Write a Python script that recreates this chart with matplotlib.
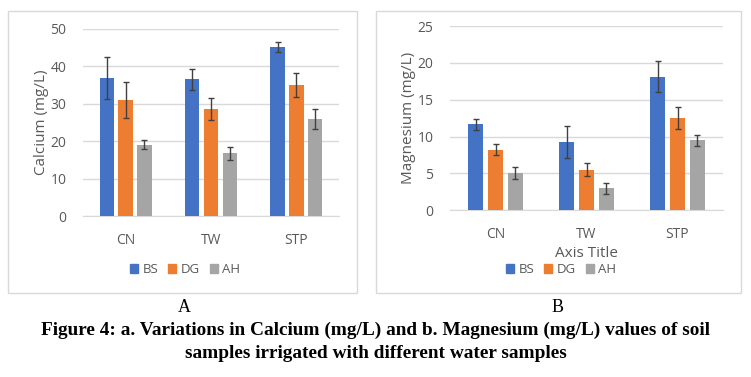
import matplotlib
matplotlib.use("Agg")
import matplotlib.pyplot as plt
import numpy as np
from matplotlib.patches import Rectangle

categories = ["CN", "TW", "STP"]
series = ["BS", "DG", "AH"]
colors = ["#4472C4", "#ED7D31", "#A5A5A5"]

calcium = {
    "BS": [36.9, 36.6, 45.2],
    "DG": [31.0, 28.6, 35.0],
    "AH": [19.0, 16.8, 25.9],
}
calcium_err = {
    "BS": [5.7, 2.8, 1.4],
    "DG": [4.7, 3.0, 3.2],
    "AH": [1.2, 1.7, 2.6],
}
magnesium = {
    "BS": [11.7, 9.3, 18.1],
    "DG": [8.2, 5.5, 12.5],
    "AH": [5.1, 3.0, 9.5],
}
magnesium_err = {
    "BS": [0.75, 2.2, 2.1],
    "DG": [0.75, 0.9, 1.5],
    "AH": [0.8, 0.75, 0.75],
}

TXT = "#595959"
GRID = "#D9D9D9"
FONT = ["Open Sans", "DejaVu Sans"]

fig = plt.figure(figsize=(7.51, 3.77), dpi=100)
W, H = 751, 377

def fx(x):
    return x / W

def fy(y):
    return 1 - y / H

# panel frames
for (x0, x1) in [(8, 357), (376, 741)]:
    fig.patches.append(Rectangle((fx(x0), fy(293)), fx(x1 - x0), (293 - 11) / H,
                                 transform=fig.transFigure, fill=False,
                                 edgecolor=GRID, linewidth=1))

def panel(rect, data, err, ymax, ystep, ylabel, frame_center, xlabel=None, legend_y=269.5):
    ax = fig.add_axes(rect)
    x = np.arange(len(categories))
    bw = 0.168
    step = 0.219
    for i, s in enumerate(series):
        ax.bar(x + (i - 1) * step, data[s], width=bw, color=colors[i], label=s,
               yerr=err[s], capsize=2.2,
               error_kw=dict(ecolor="#404040", elinewidth=1, capthick=1), zorder=3)
    ax.set_xlim(-0.5, len(categories) - 0.5)
    ax.set_ylim(0, ymax)
    ax.set_yticks(np.arange(0, ymax + 0.1, ystep))
    ax.set_xticks(x)
    ax.set_xticklabels(categories)
    ax.grid(axis="y", color=GRID, linewidth=1, zorder=0)
    for sp in ["top", "right", "left"]:
        ax.spines[sp].set_visible(False)
    ax.spines["bottom"].set_color(GRID)
    ax.tick_params(axis="both", length=0, colors=TXT, labelsize=10)
    ax.tick_params(axis="y", pad=12)
    ax.tick_params(axis="x", pad=12)
    for lab in ax.get_xticklabels() + ax.get_yticklabels():
        lab.set_family(FONT)
    ax.set_ylabel(ylabel, color=TXT, fontsize=11, family=FONT, labelpad=1)
    if xlabel:
        fig.text(fx((rect[0] + rect[2] / 2) * W), fy(253.5), xlabel, ha="center", va="center",
                 color=TXT, fontsize=11, family=FONT)
    labels = series
    handles = [Rectangle((0, 0), 1, 1, color=c) for c in colors]
    fig.legend(handles, labels, loc="center", bbox_to_anchor=(fx(frame_center), fy(legend_y)),
               ncol=3, frameon=False, handlelength=0.6, handleheight=0.6,
               handletextpad=0.35, columnspacing=0.75, labelcolor=TXT,
               borderpad=0.1, prop=dict(family=FONT, size=9.5))
    return ax

panel([fx(83), fy(216), fx(339 - 83), (216 - 29) / H], calcium, calcium_err, 50, 10,
      "Calcium (mg/L)", 185)
panel([fx(450), fy(210.3), fx(723 - 450), (210.3 - 26) / H], magnesium, magnesium_err, 25, 5,
      "Magnesium (mg/L)", 561, xlabel="Axis Title")

SERIF = ["Liberation Serif", "DejaVu Serif"]
fig.text(fx(184), fy(307), "A", ha="center", va="center", fontsize=13, family=SERIF)
fig.text(fx(558), fy(307), "B", ha="center", va="center", fontsize=13, family=SERIF)
fig.text(0.5, fy(330), "Figure 4: a. Variations in Calcium (mg/L) and b. Magnesium (mg/L) values of soil",
         ha="center", va="center", fontsize=13.9, fontweight="bold", family=SERIF)
fig.text(0.5, fy(353), "samples irrigated with different water samples",
         ha="center", va="center", fontsize=13.9, fontweight="bold", family=SERIF)

fig.savefig("out.png", dpi=100)
